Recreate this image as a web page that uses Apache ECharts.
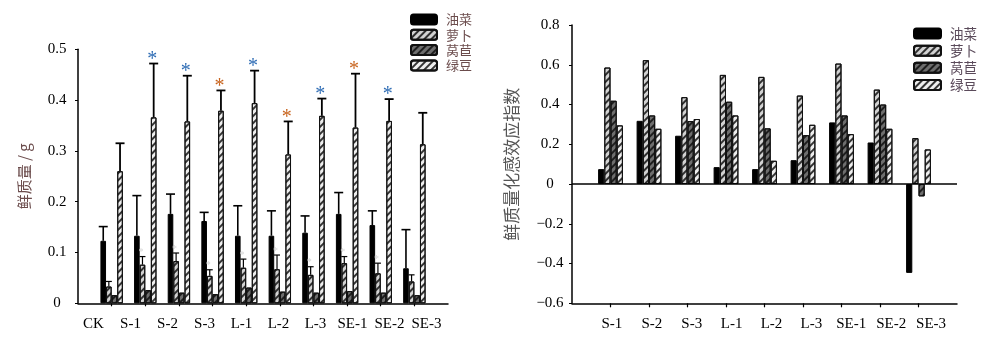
<!DOCTYPE html>
<html>
<head>
<meta charset="utf-8">
<script src="https://cdn.jsdelivr.net/npm/echarts@6/dist/echarts.min.js"></script>
<style>
html,body{margin:0;padding:0;background:#fff;}
#c{width:986px;height:339px;}
</style>
</head>
<body>
<div id="c"></div>
<script>
// ---------- Data: left chart (fresh weight, g) ----------
const categoriesL = ['CK','S-1','S-2','S-3','L-1','L-2','L-3','SE-1','SE-2','SE-3'];
const rapeL      = [0.123,0.133,0.176,0.162,0.133,0.133,0.139,0.176,0.154,0.069];
const rapeErrL   = [0.151,0.212,0.215,0.179,0.192,0.182,0.172,0.218,0.182,0.145];
const radishL    = [0.033,0.076,0.083,0.054,0.070,0.067,0.056,0.079,0.059,0.043];
const radishErrL = [0.043,0.092,0.099,0.066,0.087,0.095,0.072,0.092,0.079,0.056];
const lettuceL   = [0.016,0.026,0.021,0.018,0.031,0.023,0.021,0.024,0.021,0.016];
const mungL      = [0.260,0.366,0.358,0.379,0.394,0.293,0.369,0.346,0.359,0.313];
const mungErrL   = [0.315,0.472,0.448,0.419,0.458,0.358,0.403,0.452,0.402,0.375];
// significance marks above mung bean bars: 0 none, 1 blue star, 2 orange star
const mungSigL   = [0,1,1,2,1,2,1,2,1,0];
// faint marks above radish bars
const radishSigL = [0,1,1,1,1,1,1,1,1,0];

// ---------- Data: right chart (allelopathic effect index) ----------
const categoriesR = ['S-1','S-2','S-3','L-1','L-2','L-3','SE-1','SE-2','SE-3'];
const rapeR    = [0.075,0.318,0.243,0.085,0.075,0.120,0.310,0.209,-0.447];
const radishR  = [0.586,0.623,0.437,0.549,0.539,0.445,0.606,0.475,0.231];
const lettuceR = [0.419,0.345,0.317,0.414,0.280,0.246,0.345,0.400,-0.062];
const mungR    = [0.295,0.278,0.327,0.345,0.117,0.298,0.251,0.278,0.174];

const seriesNames = ['油菜','萝卜','莴苣','绿豆'];

// ---------- Styles ----------
const SERIF = '"Liberation Serif","DejaVu Serif",serif';
const CJK = '"Noto Sans CJK SC","Noto Sans",sans-serif';
function hatch(col){
  return {symbol:'rect', symbolSize:1, color:col, dashArrayX:[1,0], dashArrayY:[1.6,2.4], rotation:-Math.PI/4};
}
const styles = [
  {color:'#000000', borderColor:'#000', borderWidth:1},
  {color:'#d2d2d2', borderColor:'#111', borderWidth:1, decal:hatch('rgba(20,20,20,0.85)')},
  {color:'#6e6e6e', borderColor:'#111', borderWidth:1, decal:hatch('rgba(10,10,10,0.8)')},
  {color:'#eeeeee', borderColor:'#111', borderWidth:1, decal:hatch('rgba(20,20,20,0.85)')}
];
const BWL = 5.6, BWR = 6.2;

const padL = ['', ...categoriesL, ''];
const padR = ['', ...categoriesR, ''];
const hideEnds = n => (idx) => idx > 0 && idx < n - 1;

function barSeries(name, idx, values, xAxisIndex, yAxisIndex, bw, extra){
  const s = {
    name, type:'bar', xAxisIndex, yAxisIndex,
    data: values.map((v,i)=>[i+1, v]),
    barWidth: bw, barGap:'0%',
    itemStyle: styles[idx],
    emphasis:{disabled:true}, animation:false
  };
  return Object.assign(s, extra||{});
}

function errSeries(values, errs, slot, bw, lw, capW){
  return {
    type:'custom', xAxisIndex:0, yAxisIndex:0, silent:true, animation:false, z:5,
    data: values.map((v,i)=>[i+1, v, errs[i]]),
    encode:{x:0, y:[1,2]},
    renderItem: function(params, api){
      const off = (slot - 1.5) * bw;
      const p0 = api.coord([api.value(0), api.value(1)]);
      const p1 = api.coord([api.value(0), api.value(2)]);
      const x = p0[0] + off;
      return {type:'group', children:[
        {type:'line', shape:{x1:x, y1:p0[1], x2:x, y2:p1[1]}, style:{stroke:'#000', lineWidth:lw}},
        {type:'line', shape:{x1:x-capW/2, y1:p1[1], x2:x+capW/2, y2:p1[1]}, style:{stroke:'#000', lineWidth:lw}}
      ]};
    }
  };
}

function starSeries(errs, sigs, slot, bw, colors, size, dy){
  return {
    type:'custom', xAxisIndex:0, yAxisIndex:0, silent:true, animation:false, z:6,
    data: errs.map((v,i)=>[i+1, v, sigs[i]]),
    encode:{x:0, y:1},
    renderItem: function(params, api){
      const s = api.value(2);
      if(!s) return null;
      const p = api.coord([api.value(0), api.value(1)]);
      return {type:'text', x:p[0] + (slot-1.5)*bw - 1.5, y:p[1] - dy,
        style:{text:'*', fill:colors[s], font:size+'px '+SERIF, align:'center', verticalAlign:'middle'}};
    }
  };
}

const axisLab = {fontFamily:SERIF, fontSize:15, color:'#000'};

const option = {
  backgroundColor:'#fff',
  animation:false,
  grid:[
    {left:78, top:49.3, width:370, height:254},
    {left:572, top:25, width:385, height:278.3},
    {left:75, top:49.3, width:370, height:254},
    {left:592, top:25, width:359, height:278.3}
  ],
  legend:[
    {orient:'vertical', left:410, top:13, padding:0, itemWidth:26, itemHeight:10, itemGap:2.3,
     data:seriesNames, selectedMode:false,
     textStyle:{fontFamily:CJK, fontSize:13, color:'#6b4c4c', padding:[0,0,0,4]}},
    {orient:'vertical', left:913, top:26.7, padding:0, itemWidth:27, itemHeight:10, itemGap:3.7,
     data:seriesNames, selectedMode:false,
     textStyle:{fontFamily:CJK, fontSize:13.5, color:'#5a4a5a', padding:[0,0,0,4]}}
  ],
  xAxis:[
    {type:'category', gridIndex:0, data:padL, boundaryGap:false,
     axisLine:{lineStyle:{color:'#000', width:1.5}},
     axisTick:{show:true, interval:hideEnds(padL.length), length:3, lineStyle:{color:'#000', width:1.2}},
     axisLabel:{show:false}, splitLine:{show:false}},
    {type:'category', gridIndex:1, data:padR, boundaryGap:false, position:'bottom',
     axisLine:{onZero:false, lineStyle:{color:'#000', width:1.5}},
     axisTick:{show:true, interval:hideEnds(padR.length), length:4, lineStyle:{color:'#000', width:1.2}},
     axisLabel:{show:false}, splitLine:{show:false}},
    {type:'category', gridIndex:2, data:categoriesL, boundaryGap:true,
     axisLine:{show:false}, axisTick:{show:false},
     axisLabel:Object.assign({margin:13, interval:0}, axisLab)},
    {type:'category', gridIndex:3, data:categoriesR, boundaryGap:true,
     axisLine:{show:false}, axisTick:{show:false},
     axisLabel:Object.assign({margin:13, interval:0}, axisLab)}
  ],
  yAxis:[
    {type:'value', gridIndex:0, min:0, max:0.5, interval:0.1,
     axisLine:{show:true, lineStyle:{color:'#000', width:1.5}},
     axisTick:{show:true, length:3, lineStyle:{color:'#000'}},
     axisLabel:Object.assign({margin:21, align:'center', formatter:v=> v===0?'0':v.toFixed(1)}, axisLab),
     splitLine:{show:false},
     name:'鲜质量 / g', nameLocation:'middle', nameGap:46, nameRotate:90,
     nameTextStyle:{fontFamily:CJK, fontSize:15, color:'#6b4c4c'}},
    {type:'value', gridIndex:1, min:-0.6, max:0.8, interval:0.2,
     axisLine:{show:true, lineStyle:{color:'#000', width:1.5}},
     axisTick:{show:true, length:3, lineStyle:{color:'#000'}},
     axisLabel:Object.assign({margin:22, align:'center', formatter:v=>{
        const a = Math.abs(v); if(a<1e-9) return '0';
        return (v<0?'\u2212':'') + a.toFixed(1);}}, axisLab),
     splitLine:{show:false},
     name:'鲜质量化感效应指数', nameLocation:'middle', nameGap:52, nameRotate:90,
     nameTextStyle:{fontFamily:CJK, fontSize:17, color:'#555'}},
    {type:'value', gridIndex:2, show:false, min:0, max:1},
    {type:'value', gridIndex:3, show:false, min:0, max:1}
  ],
  series:[
    barSeries('油菜',0,rapeL,0,0,BWL),
    barSeries('萝卜',1,radishL,0,0,BWL),
    barSeries('莴苣',2,lettuceL,0,0,BWL),
    barSeries('绿豆',3,mungL,0,0,BWL),
    errSeries(rapeL, rapeErrL, 0, BWL, 1.6, 9),
    errSeries(radishL, radishErrL, 1, BWL, 1.2, 6),
    errSeries(mungL, mungErrL, 3, BWL, 1.8, 9),
    starSeries(mungErrL, mungSigL, 3, BWL, {1:'#2f6db5', 2:'#c8641e'}, 20, 4),
    starSeries(radishErrL, radishSigL, 1, BWL, {1:'#d6d6d6'}, 10, 4),
    barSeries('油菜',0,rapeR,1,1,BWR,{markLine:{silent:true, symbol:'none', label:{show:false},
       lineStyle:{color:'#000', width:1.5, type:'solid'}, data:[{yAxis:0}]}}),
    barSeries('萝卜',1,radishR,1,1,BWR),
    barSeries('莴苣',2,lettuceR,1,1,BWR),
    barSeries('绿豆',3,mungR,1,1,BWR)
  ]
};
const chart = echarts.init(document.getElementById('c'), null, {renderer:'canvas'});
chart.setOption(option);
</script>
</body>
</html>
